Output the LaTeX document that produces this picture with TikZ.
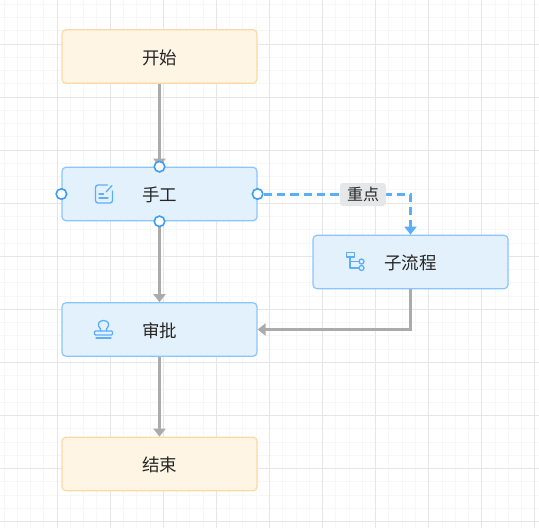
\documentclass[tikz,border=0pt]{standalone}
\usepackage{fontspec}
\newfontfamily\cjk{Noto Sans CJK SC}
\usetikzlibrary{arrows.meta,calc,positioning}

\definecolor{taskfill}{HTML}{E3F1FC}
\definecolor{taskline}{HTML}{8AC6FD}
\definecolor{endfill}{HTML}{FEF5E4}
\definecolor{endline}{HTML}{FCD9A4}
\definecolor{flowgrey}{HTML}{ABABAB}
\definecolor{portblue}{HTML}{3D9DF6}
\definecolor{keyblue}{HTML}{5CAEF8}
\definecolor{gridmajor}{HTML}{E6E6E6}
\definecolor{gridminor}{HTML}{F7F7F7}
\definecolor{tagfill}{HTML}{E6E7E8}

\tikzset{
    box/.style={draw, rounded corners=4pt, line width=1.2pt, minimum width=195pt, minimum height=53.5pt,
        inner sep=0pt, text height=17pt, text depth=1.5pt, text=black!85, font=\cjk\fontsize{17.5}{20}\selectfont},
    taskbox/.style={box, draw=taskline, fill=taskfill},
    endbox/.style={box, draw=endline, fill=endfill},
    flow/.style={draw=flowgrey, line width=2.7pt, -{Triangle[length=8pt,width=12pt]}},
    keyflow/.style={draw=keyblue, line width=3pt, dash pattern=on 8.5pt off 4.8pt,
        -{Triangle[length=8pt,width=12pt]}},
    port/.style={circle, draw=portblue, fill=white, line width=1.6pt, minimum size=10.5pt, inner sep=0pt},
    tagbox/.style={fill=tagfill, rounded corners=3pt, minimum width=46pt, minimum height=23pt, inner sep=0pt,
        text=black!85, font=\cjk\fontsize{16}{18}\selectfont},
    icon/.style={draw=keyblue, line width=1.3pt, line cap=round, line join=round},
}

\begin{document}
\begin{tikzpicture}[x=1pt, y=-1pt]
    \useasboundingbox (0,0) rectangle (539,528);

    \foreach \k in {0,...,40} {
        \draw [gridminor, line width=1pt] ({4.1+13.27*\k},0) -- ({4.1+13.27*\k},528);
        \draw [gridminor, line width=1pt] (0,{4.2+13.27*\k}) -- (539,{4.2+13.27*\k});
    }
    \foreach \k in {1,...,10} {
        \draw [gridmajor, line width=1pt] ({4.1+53.08*\k},0) -- ({4.1+53.08*\k},528);
    }
    \foreach \k in {0,...,9} {
        \draw [gridmajor, line width=1pt] (0,{44+53.08*\k}) -- (539,{44+53.08*\k});
    }

    \node[endbox] (begin) at (159.5,56.5) {开始};
    \node[taskbox] (manual) at (159.5,194) {手工};
    \node[taskbox] (approve) at (159.5,329.5) {审批};
    \node[endbox] (finish) at (159.5,464) {结束};
    \node[taskbox] (sub) at (410.5,262) {子流程};

    \draw [flow] (begin) to (manual);
    \draw [flow] (manual) to (approve);
    \draw [flow] (approve) to (finish);
    \draw [flow] (sub.south) |- (approve.east);

    \node[port] (ptop) at (manual.north) {};
    \node[port] (pbottom) at (manual.south) {};
    \node[port] (pleft) at (manual.west) {};
    \node[port] (pright) at (manual.east) {};

    \draw [keyflow] (pright) -| (sub.north);
    \node[tagbox] (tag) at (363,194.5) {重点};

    \draw [icon, rounded corners=2.5pt] (107.5,185) -- (95.5,185) -- (95.5,203) -- (112.5,203) -- (112.5,191);
    \draw [icon] (106,192) -- (112,185.5);
    \draw [icon] (99,194) -- (103.5,194);
    \draw [icon] (99,198) -- (108,198);

    \draw [icon] (100.5,331) -- (100.5,329) .. controls (96.5,325) and (98.5,320.5) .. (103.5,320.5)
        .. controls (108.5,320.5) and (110.5,325) .. (106.5,329) -- (106.5,331);
    \draw [icon, rounded corners=1pt] (94.5,331) rectangle (112.5,335);
    \draw [icon] (96,338) -- (111,338);

    \draw [icon] (346.5,252.5) rectangle (354.5,257);
    \draw [icon] (350,257) -- (350,268) -- (358.5,268);
    \draw [icon] (350,261.5) -- (358.5,261.5);
    \draw [icon] (361.5,261.5) circle [radius=2.5pt];
    \draw [icon] (361.5,268) circle [radius=2.5pt];
\end{tikzpicture}
\end{document}
